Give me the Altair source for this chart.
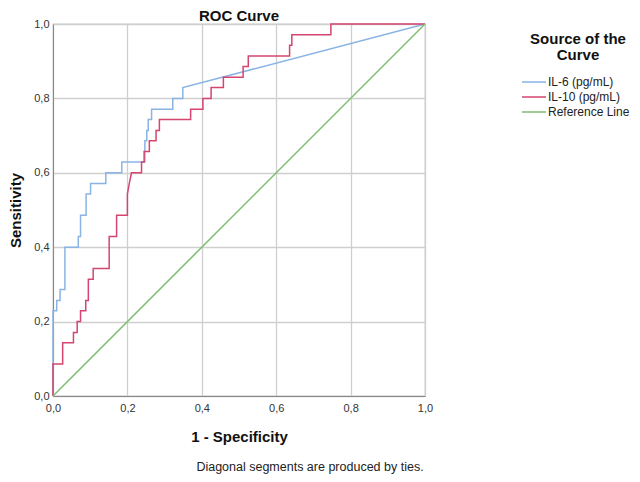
import altair as alt
import pandas as pd

series_names = ["IL-6 (pg/mL)", "IL-10 (pg/mL)", "Reference Line"]
colors = ["#8ab4e3", "#d4456f", "#7cbd6e"]

il6_fpr = [0, 0, 0.010, 0.010, 0.019, 0.019, 0.032, 0.032, 0.068, 0.068, 0.074, 0.074,
           0.089, 0.089, 0.101, 0.101, 0.142, 0.142, 0.185, 0.185, 0.247, 0.247,
           0.252, 0.252, 0.256, 0.256, 0.265, 0.265, 0.322, 0.322, 0.349, 0.349, 1.0]
il6_sens = [0, 0.229, 0.229, 0.257, 0.257, 0.286, 0.286, 0.400, 0.400, 0.429, 0.429, 0.486,
            0.486, 0.543, 0.543, 0.571, 0.571, 0.600, 0.600, 0.629, 0.629, 0.686,
            0.686, 0.714, 0.714, 0.743, 0.743, 0.771, 0.771, 0.800, 0.800, 0.829, 1.0]

il10_fpr = [0, 0, 0.026, 0.026, 0.055, 0.055, 0.065, 0.065, 0.074, 0.074, 0.088, 0.088,
            0.095, 0.095, 0.108, 0.108, 0.151, 0.151, 0.171, 0.171, 0.200, 0.200,
            0.205, 0.211, 0.238, 0.238, 0.245, 0.245, 0.259, 0.259, 0.277, 0.277,
            0.286, 0.286, 0.370, 0.370, 0.403, 0.403, 0.425, 0.425, 0.458, 0.458,
            0.511, 0.511, 0.525, 0.525, 0.636, 0.636, 0.642, 0.642, 0.747, 0.747, 1.0]
il10_sens = [0, 0.086, 0.086, 0.143, 0.143, 0.171, 0.171, 0.200, 0.200, 0.229, 0.229, 0.257,
             0.257, 0.314, 0.314, 0.343, 0.343, 0.429, 0.429, 0.486, 0.486, 0.543,
             0.571, 0.600, 0.600, 0.629, 0.629, 0.657, 0.657, 0.686, 0.686, 0.714,
             0.714, 0.743, 0.743, 0.771, 0.771, 0.800, 0.800, 0.829, 0.829, 0.857,
             0.857, 0.886, 0.886, 0.914, 0.914, 0.943, 0.943, 0.971, 0.971, 1.0, 1.0]

ref_fpr = [0, 1.0]
ref_sens = [0, 1.0]

rows = []
for name, xs, ys in zip(series_names, [il6_fpr, il10_fpr, ref_fpr], [il6_sens, il10_sens, ref_sens]):
    for i, (a, b) in enumerate(zip(xs, ys)):
        rows.append({"series": name, "fpr": a, "sens": b, "idx": i})
df = pd.DataFrame(rows)

FONT = "Liberation Sans"
tick_vals = [0, 0.2, 0.4, 0.6, 0.8, 1.0]
lbl = "replace(format(datum.value, '.1f'), '.', ',')"

lines = alt.Chart(df).mark_line(strokeWidth=1.5).encode(
    x=alt.X("fpr:Q", scale=alt.Scale(domain=[0, 1], nice=False),
            axis=alt.Axis(values=tick_vals, labelExpr=lbl, title="1 - Specificity",
                          ticks=False, labelPadding=6, titlePadding=16, labelFlush=False,
                          titleFontSize=15, titleFontWeight="bold", titleFont=FONT,
                          labelFont=FONT, labelFontSize=11, labelColor="#333",
                          titleColor="#111", domainColor="#888", gridColor="#cfcfcf",
                          gridWidth=1.3)),
    y=alt.Y("sens:Q", scale=alt.Scale(domain=[0, 1], nice=False),
            axis=alt.Axis(values=tick_vals, labelExpr=lbl, title="Sensitivity",
                          ticks=False, labelPadding=4, titlePadding=10, labelFlush=False,
                          titleFontSize=15, titleFontWeight="bold", titleFont=FONT,
                          labelFont=FONT, labelFontSize=11, labelColor="#333",
                          titleColor="#111", domainColor="#888", gridColor="#cfcfcf",
                          gridWidth=1.3)),
    color=alt.Color("series:N", scale=alt.Scale(domain=series_names, range=colors),
                    sort=series_names,
                    legend=alt.Legend(title=["Source of the", "Curve"], orient="none",
                                      legendX=474, legendY=8,
                                      titleFont=FONT, titleFontSize=15, titleFontWeight="bold",
                                      titleColor="#111", titleAlign="center", titleAnchor="middle",
                                      titleLineHeight=16, titlePadding=12,
                                      labelFont=FONT, labelFontSize=12, labelColor="#222",
                                      labelOffset=7,
                                      symbolType="M-2,0H2", symbolSize=144, symbolStrokeWidth=1.5,
                                      rowPadding=2)),
    order="idx:Q",
)

note = alt.Chart(pd.DataFrame({"t": ["Diagonal segments are produced by ties."]})).mark_text(
    font=FONT, fontSize=12.5, color="#222", align="center", baseline="middle"
).encode(x=alt.value(257), y=alt.value(443), text="t:N")

chart = alt.layer(lines, note).properties(
    width=372, height=372,
    title=alt.TitleParams("ROC Curve", font=FONT, fontSize=15, fontWeight="bold",
                          color="#111", anchor="middle", offset=-6),
    autosize=alt.AutoSizeParams(type="none"),
    padding={"left": 45, "top": 16, "right": 207, "bottom": 78},
).configure_view(stroke="#cfcfcf", strokeWidth=1.3)

chart.save("out.html", embed_options={"renderer": "svg", "actions": False})
